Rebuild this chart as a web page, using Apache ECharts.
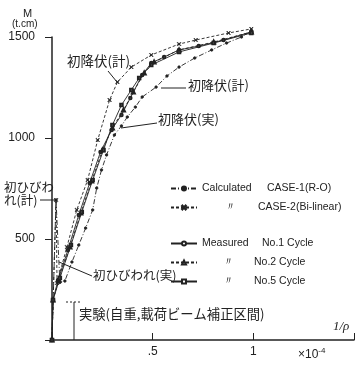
<!DOCTYPE html>
<html>
<head>
<meta charset="utf-8">
<script src="https://cdn.jsdelivr.net/npm/echarts@6.0.0/dist/echarts.min.js"></script>
<style>
  html, body { margin: 0; padding: 0; background: #fff; }
  #main { width: 357px; height: 365px; }
</style>
</head>
<body>
<div id="main"></div>
<script>
// 1/rho (x10^-4) , M (t.cm)
const calcRO = [[0,0],[0.02,693],[0.039,285],[0.064,292],[0.099,386],[0.133,470],[0.167,554],[0.202,644],[0.222,752],[0.246,842],[0.271,916],[0.31,1015],[0.345,1060],[0.374,1104],[0.414,1153],[0.448,1203],[0.517,1252],[0.571,1307],[0.631,1351],[0.709,1396],[0.793,1436],[0.867,1470],[0.941,1500],[0.99,1530]];
const calcBL = [[0,0],[0.02,693],[0.025,282],[0.074,460],[0.123,644],[0.177,792],[0.227,990],[0.286,1188],[0.325,1277],[0.394,1351],[0.493,1411],[0.631,1465],[0.714,1485],[0.877,1520],[0.99,1540]];
const meas1 = [[0,0],[0.005,198],[0.03,297],[0.079,446],[0.133,619],[0.187,777],[0.241,931],[0.296,1040],[0.345,1114],[0.389,1198],[0.448,1312],[0.493,1371],[0.557,1401],[0.631,1436],[0.729,1455],[0.852,1485],[0.99,1525]];
const meas2 = [[0,0],[0.005,198],[0.034,297],[0.089,460],[0.143,629],[0.197,787],[0.251,941],[0.3,1050],[0.355,1139],[0.404,1228],[0.458,1322],[0.507,1376],[0.631,1436],[0.803,1475],[0.99,1525]];
const meas5 = [[0,0],[0.005,198],[0.039,307],[0.094,470],[0.148,634],[0.202,792],[0.256,941],[0.3,1064],[0.345,1163],[0.394,1238],[0.433,1297],[0.493,1361],[0.631,1426],[0.803,1470],[0.99,1520]];

const yTickLabels = { 500: '500', 1000: '1000', 1500: '1500' };
const xTickLabels = { 0.5: '.5', 1: '1' };

const legendText = {
  'CASE-1(R-O)': '{a|Calculated}{b|CASE-1(R-O)}',
  'CASE-2(Bi-linear)': '{c|〃}{b|CASE-2(Bi-linear)}',
  'No.1 Cycle': '{m|Measured}{b|No.1 Cycle}',
  'No.2 Cycle': '{n|〃}{b|No.2 Cycle}',
  'No.5 Cycle': '{n|〃}{b|No.5 Cycle}'
};

const ink = '#222';
const jp = '"Noto Sans CJK JP", sans-serif';
const xMark = 'path://M0,1L1,0L5,4L9,0L10,1L6,5L10,9L9,10L5,6L1,10L0,9L4,5Z';

const chart = echarts.init(document.getElementById('main'), null, { renderer: 'canvas' });

const legendRich = {
  a: { width: 65, fontSize: 10.5, color: ink },
  m: { width: 60, fontSize: 10.5, color: ink },
  c: { width: 56, align: 'center', fontSize: 10.5, color: ink },
  n: { width: 52, align: 'center', fontSize: 10.5, color: ink },
  b: { fontSize: 10.5, color: ink }
};

function line(name, data, symbol, size, dash) {
  return {
    name: name,
    type: 'line',
    data: data,
    symbol: symbol,
    symbolSize: size,
    clip: false,
    animation: false,
    lineStyle: { color: ink, width: 0.9, type: dash },
    itemStyle: { color: ink, borderColor: ink, borderWidth: 0.8 }
  };
}

const option = {
  backgroundColor: '#fff',
  textStyle: { fontFamily: '"Liberation Sans", sans-serif' },
  grid: { left: 52, right: 0, top: 37, bottom: 25 },
  legend: [
    {
      data: ['CASE-1(R-O)', 'CASE-2(Bi-linear)'],
      orient: 'vertical', left: 165, top: 178,
      itemWidth: 26, itemHeight: 5, itemGap: 8,
      formatter: n => legendText[n],
      textStyle: { rich: legendRich }
    },
    {
      data: ['No.1 Cycle', 'No.2 Cycle', 'No.5 Cycle'],
      orient: 'vertical', left: 165, top: 233,
      itemWidth: 26, itemHeight: 5, itemGap: 8,
      formatter: n => legendText[n],
      textStyle: { rich: legendRich }
    }
  ],
  xAxis: {
    type: 'value', min: 0, max: 1.5, interval: 0.5,
    splitLine: { show: false },
    axisLine: { lineStyle: { color: ink, width: 1.5 } },
    axisTick: { inside: true, length: 7, lineStyle: { color: ink } },
    axisLabel: { color: ink, fontSize: 12, margin: 6, formatter: v => xTickLabels[v] || '' }
  },
  yAxis: {
    type: 'value', min: 0, max: 1500, interval: 500,
    splitLine: { show: false },
    axisLine: { show: true, lineStyle: { color: ink, width: 1.5 } },
    axisTick: { show: true, length: 7, lineStyle: { color: ink } },
    axisLabel: { color: ink, fontSize: 12, margin: 17, formatter: v => yTickLabels[v] || '' }
  },
  series: [
    line('CASE-1(R-O)', calcRO, 'circle', 2.5, [5, 2, 1, 2]),
    line('CASE-2(Bi-linear)', calcBL, xMark, 3.5, [3, 2]),
    line('No.1 Cycle', meas1, 'emptyCircle', 2.5, 'solid'),
    line('No.2 Cycle', meas2, 'emptyTriangle', 3, [3, 2]),
    line('No.5 Cycle', meas5, 'emptyRect', 2.5, 'solid')
  ],
  graphic: [
    { type: 'text', left: 23, top: 8, style: { text: 'M', font: '11px "Liberation Sans"', fill: ink } },
    { type: 'text', left: 12, top: 19, style: { text: '(t.cm)', font: '10px "Liberation Sans"', fill: ink } },
    { type: 'text', left: 333, top: 320, style: { text: '1/ρ', font: 'italic 13px "Liberation Serif"', fill: ink } },
    { type: 'text', left: 298, top: 347, style: { text: '×10{s|-4}', font: '12px "Liberation Sans"', fill: ink, rich: { s: { fontSize: 8, padding: [0, 0, 7, 0] } } } },

    { type: 'text', left: 67, top: 54, style: { text: '初降伏(計)', font: '13.5px ' + jp, fill: ink } },
    { type: 'line', shape: { x1: 108, y1: 71, x2: 117, y2: 82 }, style: { stroke: ink, lineWidth: 1 } },
    { type: 'text', left: 188, top: 79, style: { text: '初降伏(計)', font: '13px ' + jp, fill: ink } },
    { type: 'line', shape: { x1: 161, y1: 88, x2: 186, y2: 88 }, style: { stroke: ink, lineWidth: 1 } },
    { type: 'text', left: 158, top: 113, style: { text: '初降伏(実)', font: '13px ' + jp, fill: ink } },
    { type: 'line', shape: { x1: 121, y1: 128, x2: 157, y2: 123 }, style: { stroke: ink, lineWidth: 1 } },
    { type: 'text', left: 4, top: 181, style: { text: '初ひびわ', font: '12.5px ' + jp, fill: ink } },
    { type: 'text', left: 4, top: 194, style: { text: 'れ(計)', font: '12.5px ' + jp, fill: ink } },
    { type: 'line', shape: { x1: 40, y1: 200, x2: 55, y2: 200 }, style: { stroke: ink, lineWidth: 1 } },
    { type: 'text', left: 93, top: 269, style: { text: '初ひびわれ(実)', font: '12.5px ' + jp, fill: ink } },
    { type: 'line', shape: { x1: 59, y1: 262, x2: 92, y2: 276 }, style: { stroke: ink, lineWidth: 1 } },
    { type: 'text', left: 79, top: 307, style: { text: '実験(自重,載荷ビーム補正区間)', font: '13.3px ' + jp, fill: ink } },
    { type: 'line', shape: { x1: 74, y1: 302, x2: 74, y2: 340 }, style: { stroke: ink, lineWidth: 1 } },
    { type: 'line', shape: { x1: 66, y1: 302, x2: 81, y2: 302 }, style: { stroke: ink, lineWidth: 1, lineDash: [2, 2] } }
  ]
};

chart.setOption(option);
</script>
</body>
</html>
